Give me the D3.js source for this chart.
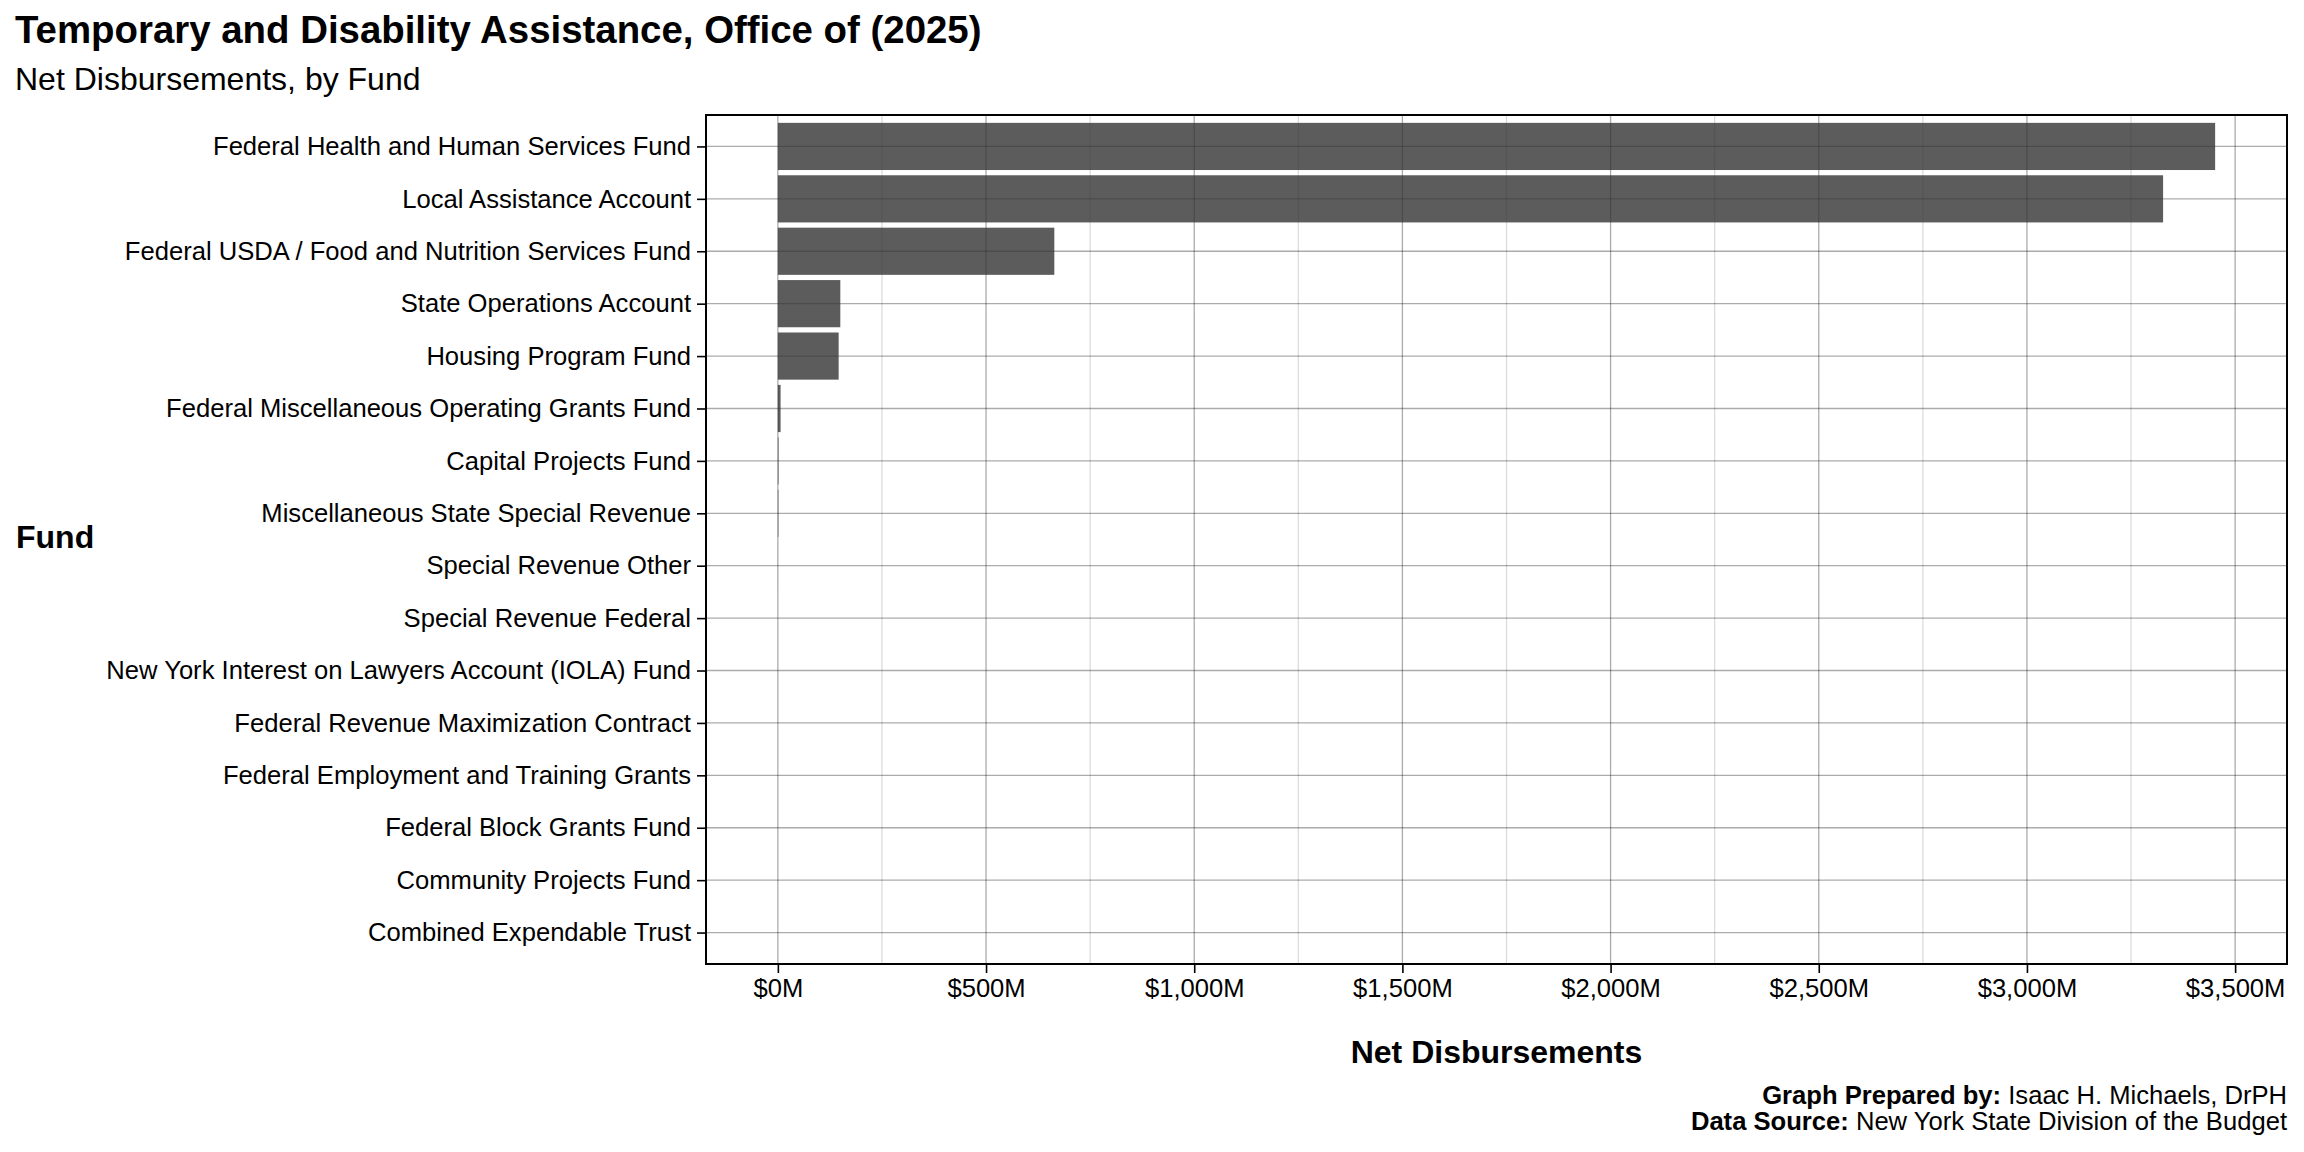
<!DOCTYPE html>
<html lang="en">
<head>
<meta charset="UTF-8">
<script src="https://d3js.org/d3.v7.min.js"></script>
<title>Net Disbursements by Fund</title>
<style>
  body { margin: 0; background: #fff; }
  text { font-family: "Liberation Sans", Arial, Helvetica, sans-serif; fill: #000; }
</style>
</head>
<body>
<script>
    // funds, top to bottom (sorted by net disbursements)
    const funds = [
        "Federal Health and Human Services Fund",
        "Local Assistance Account",
        "Federal USDA / Food and Nutrition Services Fund",
        "State Operations Account",
        "Housing Program Fund",
        "Federal Miscellaneous Operating Grants Fund",
        "Capital Projects Fund",
        "Miscellaneous State Special Revenue",
        "Special Revenue Other",
        "Special Revenue Federal",
        "New York Interest on Lawyers Account (IOLA) Fund",
        "Federal Revenue Maximization Contract",
        "Federal Employment and Training Grants",
        "Federal Block Grants Fund",
        "Community Projects Fund",
        "Combined Expendable Trust"
    ];
    // net disbursements, $ millions
    const disbursements = [3452, 3327, 664, 150, 146, 6.5, 1.5, 1.2, 0.1, 0, 0, 0, 0, 0, 0, 0];
    const xTicks = [0, 500, 1000, 1500, 2000, 2500, 3000, 3500];
    const xMinorTicks = [250, 750, 1250, 1750, 2250, 2750, 3250];

    const data = funds.map((f, i) => ({ fund: f, value: disbursements[i] }));

    const W = 2304, H = 1152;
    const panel = { left: 706, top: 115, right: 2287, bottom: 964 };

    const svg = d3.select("body").append("svg")
        .attr("width", W)
        .attr("height", H);

    const maxVal = d3.max(data, d => d.value);
    const xScale = d3.scaleLinear()
        .domain([-0.05 * maxVal, 1.05 * maxVal])
        .range([panel.left, panel.right]);

    const yScale = d3.scalePoint()
        .domain(funds)
        .range([panel.top, panel.bottom])
        .padding(0.6);

    const barH = yScale.step() * 0.9;

    // grid
    const grid = svg.append("g");
    grid.selectAll(".minor")
        .data(xMinorTicks)
        .enter().append("line")
        .attr("x1", d => xScale(d)).attr("x2", d => xScale(d))
        .attr("y1", panel.top).attr("y2", panel.bottom)
        .attr("stroke", "#000").attr("stroke-opacity", 0.14).attr("stroke-width", 1.3);
    grid.selectAll(".major")
        .data(xTicks)
        .enter().append("line")
        .attr("x1", d => xScale(d)).attr("x2", d => xScale(d))
        .attr("y1", panel.top).attr("y2", panel.bottom)
        .attr("stroke", "#000").attr("stroke-opacity", 0.33).attr("stroke-width", 1.3);
    grid.selectAll(".hmajor")
        .data(funds)
        .enter().append("line")
        .attr("x1", panel.left).attr("x2", panel.right)
        .attr("y1", d => yScale(d)).attr("y2", d => yScale(d))
        .attr("stroke", "#000").attr("stroke-opacity", 0.33).attr("stroke-width", 1.3);

    // bars
    svg.append("g").selectAll("rect")
        .data(data)
        .enter().append("rect")
        .attr("x", xScale(0))
        .attr("y", d => yScale(d.fund) - barH / 2)
        .attr("width", d => Math.max(0, xScale(d.value) - xScale(0)))
        .attr("height", barH)
        .attr("fill", "#333333")
        .attr("fill-opacity", 0.8);

    // panel border
    svg.append("rect")
        .attr("x", panel.left).attr("y", panel.top)
        .attr("width", panel.right - panel.left)
        .attr("height", panel.bottom - panel.top)
        .attr("fill", "none").attr("stroke", "#000").attr("stroke-width", 2);

    // x axis
    const xAxis = svg.append("g")
        .attr("transform", "translate(0," + panel.bottom + ")")
        .call(d3.axisBottom(xScale)
            .tickValues(xTicks)
            .tickSize(9)
            .tickPadding(6)
            .tickFormat(d => "$" + d3.format(",")(d) + "M"));
    xAxis.select(".domain").remove();
    xAxis.selectAll("line").attr("stroke", "#000").attr("stroke-width", 1.6);
    xAxis.selectAll("text").style("font-size", "25.6px").attr("fill", "#000")
        .style("font-family", "'Liberation Sans', Arial, sans-serif");

    // y axis
    const yAxis = svg.append("g")
        .attr("transform", "translate(" + panel.left + ",0)")
        .call(d3.axisLeft(yScale).tickSize(9).tickPadding(6));
    yAxis.select(".domain").remove();
    yAxis.selectAll("line").attr("stroke", "#000").attr("stroke-width", 1.6);
    yAxis.selectAll("text").style("font-size", "25.6px").attr("fill", "#000")
        .style("font-family", "'Liberation Sans', Arial, sans-serif");

    // axis titles
    svg.append("text")
        .attr("x", (panel.left + panel.right) / 2)
        .attr("y", 1063)
        .style("text-anchor", "middle")
        .style("font-size", "32px")
        .style("font-weight", "bold")
        .text("Net Disbursements");

    svg.append("text")
        .attr("x", 16)
        .attr("y", panel.top + (panel.bottom - panel.top) / 2 + 8)
        .style("font-size", "32px")
        .style("font-weight", "bold")
        .text("Fund");

    // title and subtitle
    svg.append("text")
        .attr("x", 15)
        .attr("y", 43)
        .style("font-size", "38.4px")
        .style("font-weight", "bold")
        .text("Temporary and Disability Assistance, Office of (2025)");

    svg.append("text")
        .attr("x", 15)
        .attr("y", 90)
        .style("font-size", "32px")
        .text("Net Disbursements, by Fund");

    // caption
    const caption = [
        ["Graph Prepared by: ", "Isaac H. Michaels, DrPH"],
        ["Data Source: ", "New York State Division of the Budget"]
    ];
    caption.forEach((c, i) => {
        const t = svg.append("text")
            .attr("x", panel.right)
            .attr("y", 1104 + i * 26)
            .style("text-anchor", "end")
            .style("font-size", "25.6px");
        t.append("tspan").style("font-weight", "bold").text(c[0]);
        t.append("tspan").text(c[1]);
    });
</script>
</body>
</html>
